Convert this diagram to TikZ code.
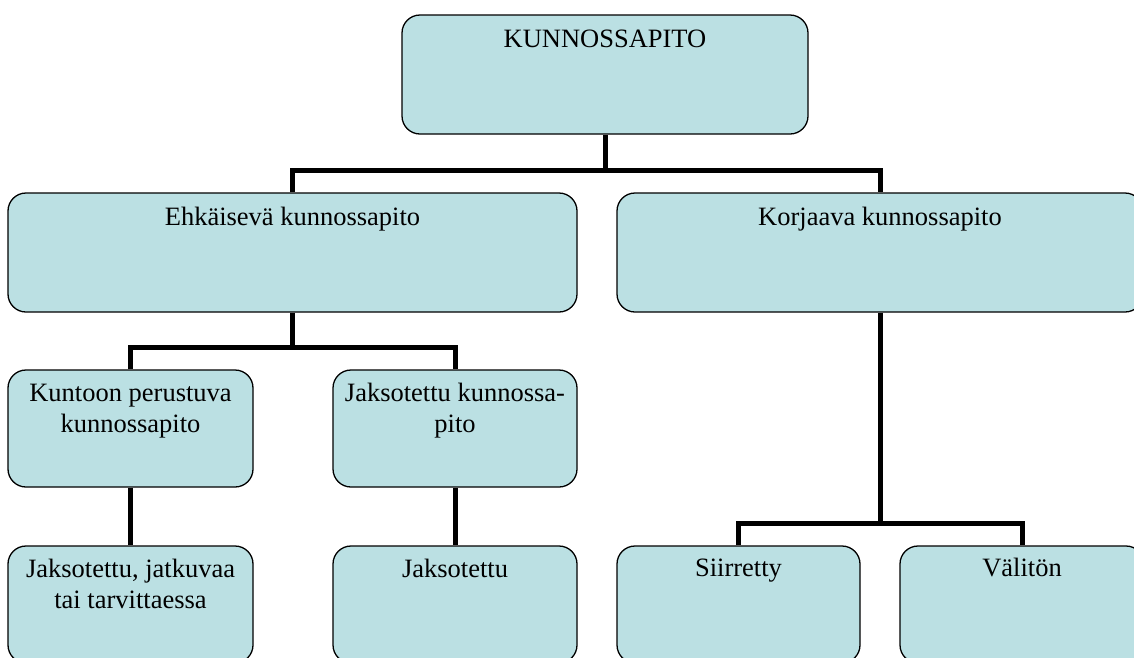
\documentclass[tikz,border=0pt]{standalone}
\usepackage{fontspec}
\setmainfont{Liberation Serif}
\usetikzlibrary{positioning}
\definecolor{boxfill}{HTML}{BBE0E3}
\tikzset{
  box/.style={draw=black, line width=1.3pt, fill=boxfill, rounded corners=18pt, inner sep=0pt},
  conn/.style={draw=black, line width=5pt},
  lbl/.style={anchor=base, inner sep=0pt, font=\fontsize{26.5}{31}\selectfont}
}
\newcommand{\boxtext}[2]{\parbox[t]{#1}{\centering #2}}
\begin{document}
\begin{tikzpicture}[x=1pt, y=-1pt]
\useasboundingbox (0,0) rectangle (1134,657);
\clip (0,0) rectangle (1134,657);
% boxes
\node[box, minimum width=406pt, minimum height=119pt] (top) at (605,74.5) {};
\node[box, minimum width=569pt, minimum height=119pt] (ehk) at (292.5,252.5) {};
\node[box, minimum width=526pt, minimum height=119pt] (korj) at (880,252.5) {};
\node[box, minimum width=245pt, minimum height=117pt] (kunt) at (130.5,428.5) {};
\node[box, minimum width=244pt, minimum height=117pt] (jaks) at (455,428.5) {};
\node[box, minimum width=245pt, minimum height=117pt] (jak1) at (130.5,604.5) {};
\node[box, minimum width=244pt, minimum height=117pt] (jak2) at (455,604.5) {};
\node[box, minimum width=243pt, minimum height=117pt] (siir) at (738.5,604.5) {};
\node[box, minimum width=244pt, minimum height=117pt] (val) at (1022,604.5) {};
% labels
\node[lbl] (topT) at ([yshift=-33pt]top.north) {KUNNOSSAPITO};
\node[lbl] (ehkT) at ([yshift=-33pt]ehk.north) {Ehkäisevä kunnossapito};
\node[lbl] (korjT) at ([yshift=-33pt]korj.north) {Korjaava kunnossapito};
\node[lbl] (kuntT) at ([yshift=-32pt]kunt.north) {\boxtext{240pt}{Kuntoon perustuva\\kunnossapito}};
\node[lbl] (jaksT) at ([yshift=-32pt]jaks.north) {\boxtext{240pt}{Jaksotettu kunnossa-\\pito}};
\node[lbl] (jak1T) at ([yshift=-32pt]jak1.north) {\boxtext{240pt}{Jaksotettu, jatkuvaa\\tai tarvittaessa}};
\node[lbl] (jak2T) at ([yshift=-32pt]jak2.north) {Jaksotettu};
\node[lbl] (siirT) at ([yshift=-31pt]siir.north) {Siirretty};
\node[lbl] (valT) at ([yshift=-31pt]val.north) {Välitön};
% junctions
\coordinate (j1) at (605,170);
\coordinate (j2) at (292.5,347);
\coordinate (j3) at (880,523);
% connectors
\draw[conn] (top.south) -- (j1);
\draw[conn] (ehk.north) |- (j1) -| (korj.north);
\draw[conn] (ehk.south) -- (j2);
\draw[conn] (kunt.north) |- (j2) -| (jaks.north);
\draw[conn] (kunt.south) -- (jak1.north);
\draw[conn] (jaks.south) -- (jak2.north);
\draw[conn] (korj.south) -- (j3);
\draw[conn] (siir.north) |- (j3) -| (val.north);
\end{tikzpicture}
\end{document}
